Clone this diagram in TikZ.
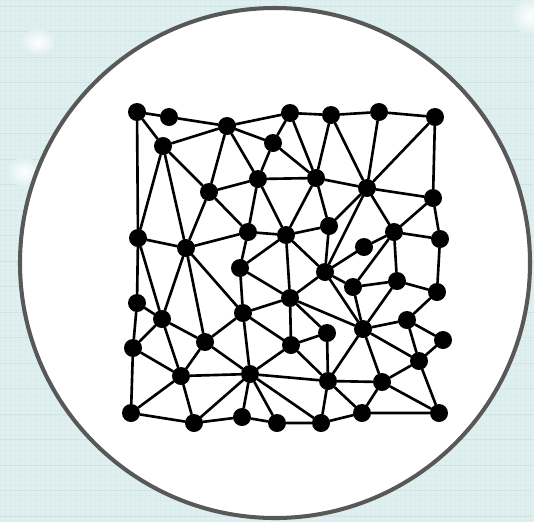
\documentclass[tikz,border=0pt]{standalone}
\usepackage{tikz}
\usepackage{xcolor}
\definecolor{paper}{RGB}{224,239,239}
\definecolor{paperline}{RGB}{207,229,229}
\definecolor{paperfine}{RGB}{217,235,235}
\definecolor{rimgray}{RGB}{88,88,88}
\tikzset{
  vtx/.style={circle,fill=black,inner sep=0pt,minimum size=0.36cm},
  link/.style={line width=1.5pt,line cap=round},
  rim/.style={draw=rimgray,line width=2.3pt,fill=white},
  spot/.style={inner color=white,outer color=paper}
}

\begin{document}
\begin{tikzpicture}[x=0.02cm,y=-0.02cm]
% paper background
\path[fill=paper] (0,0) rectangle (534,522);
\useasboundingbox (0,0) rectangle (534,522);
\foreach \gx in {0,5,...,534} \draw[paperfine,line width=0.2pt] (\gx,0)--(\gx,522);
\foreach \gy in {0,5,...,522} \draw[paperfine,line width=0.2pt] (0,\gy)--(534,\gy);
\foreach \gy in {6,31.5,...,522} \draw[paperline,line width=0.5pt] (0,\gy)--(534,\gy);
\shade[spot] (38,42) ellipse (17 and 13);
\shade[spot] (24,172) ellipse (17 and 14);
\shade[spot] (530,16) ellipse (18 and 18);
% disc
\draw[rim] (275,263) circle (255);

% vertices
\node[vtx] (v1) at (137,112) {};
\node[vtx] (v2) at (169,117) {};
\node[vtx] (v3) at (227,126) {};
\node[vtx] (v4) at (290,113) {};
\node[vtx] (v5) at (331,115) {};
\node[vtx] (v6) at (379,112) {};
\node[vtx] (v7) at (435,117) {};
\node[vtx] (v8) at (163,146) {};
\node[vtx] (v9) at (273,143) {};
\node[vtx] (v10) at (209,192) {};
\node[vtx] (v11) at (258,179) {};
\node[vtx] (v12) at (316,178) {};
\node[vtx] (v13) at (367,188) {};
\node[vtx] (v14) at (433,198) {};
\node[vtx] (v15) at (138,238) {};
\node[vtx] (v16) at (186,248) {};
\node[vtx] (v17) at (248,232) {};
\node[vtx] (v18) at (286,235) {};
\node[vtx] (v19) at (329,226) {};
\node[vtx] (v20) at (394,232) {};
\node[vtx] (v21) at (440,239) {};
\node[vtx] (v22) at (364,247) {};
\node[vtx] (v23) at (240,268) {};
\node[vtx] (v24) at (325,272) {};
\node[vtx] (v25) at (353,287) {};
\node[vtx] (v26) at (397,281) {};
\node[vtx] (v27) at (437,292) {};
\node[vtx] (v28) at (137,303) {};
\node[vtx] (v29) at (162,319) {};
\node[vtx] (v30) at (290,298) {};
\node[vtx] (v31) at (243,313) {};
\node[vtx] (v32) at (327,333) {};
\node[vtx] (v33) at (363,329) {};
\node[vtx] (v34) at (407,320) {};
\node[vtx] (v35) at (443,340) {};
\node[vtx] (v36) at (133,348) {};
\node[vtx] (v37) at (205,342) {};
\node[vtx] (v38) at (291,345) {};
\node[vtx] (v39) at (419,361) {};
\node[vtx] (v40) at (181,376) {};
\node[vtx] (v41) at (250,374) {};
\node[vtx] (v42) at (328,381) {};
\node[vtx] (v43) at (382,382) {};
\node[vtx] (v44) at (131,413) {};
\node[vtx] (v45) at (194,423) {};
\node[vtx] (v46) at (242,417) {};
\node[vtx] (v47) at (277,423) {};
\node[vtx] (v48) at (321,423) {};
\node[vtx] (v49) at (362,413) {};
\node[vtx] (v50) at (439,413) {};

% edges
\draw[link] (v1)--(v2) (v1)--(v8) (v1)--(v15) (v2)--(v3)
  (v3)--(v4) (v3)--(v8) (v3)--(v9) (v3)--(v10) (v3)--(v11)
  (v4)--(v5) (v4)--(v9) (v4)--(v12) (v5)--(v6) (v5)--(v12) (v5)--(v13)
  (v6)--(v7) (v6)--(v13) (v7)--(v13) (v7)--(v14);
\draw[link] (v8)--(v10) (v8)--(v15) (v8)--(v16) (v9)--(v11) (v9)--(v12)
  (v10)--(v11) (v10)--(v16) (v10)--(v17) (v11)--(v12) (v11)--(v17) (v11)--(v18)
  (v12)--(v13) (v12)--(v18) (v12)--(v19)
  (v13)--(v14) (v13)--(v19) (v13)--(v20) (v13)--(v24) (v14)--(v20) (v14)--(v21);
\draw[link] (v15)--(v16) (v15)--(v28) (v15)--(v29)
  (v16)--(v17) (v16)--(v29) (v16)--(v31) (v16)--(v37) (v17)--(v18) (v17)--(v23)
  (v18)--(v19) (v18)--(v23) (v18)--(v24) (v18)--(v30) (v19)--(v24)
  (v20)--(v21) (v20)--(v22) (v20)--(v25) (v20)--(v26) (v21)--(v27) (v22)--(v24);
\draw[link] (v23)--(v30) (v23)--(v31) (v24)--(v25) (v24)--(v30) (v24)--(v33)
  (v25)--(v26) (v25)--(v33) (v26)--(v27) (v26)--(v33) (v27)--(v34)
  (v28)--(v29) (v28)--(v36) (v29)--(v36) (v29)--(v37) (v29)--(v40)
  (v30)--(v31) (v30)--(v32) (v30)--(v33) (v30)--(v38)
  (v31)--(v37) (v31)--(v38) (v31)--(v41) (v32)--(v38) (v32)--(v42);
\draw[link] (v33)--(v34) (v33)--(v39) (v33)--(v42) (v33)--(v43)
  (v34)--(v35) (v34)--(v39) (v35)--(v39) (v36)--(v40) (v36)--(v44)
  (v37)--(v40) (v37)--(v41) (v38)--(v41) (v38)--(v42) (v39)--(v43) (v39)--(v50)
  (v40)--(v41) (v40)--(v44) (v40)--(v45)
  (v41)--(v42) (v41)--(v45) (v41)--(v46) (v41)--(v47) (v41)--(v48)
  (v42)--(v43) (v42)--(v48) (v42)--(v49) (v43)--(v49) (v43)--(v50)
  (v44)--(v45) (v45)--(v46) (v46)--(v47) (v47)--(v48) (v48)--(v49) (v49)--(v50);
\end{tikzpicture}
\end{document}
